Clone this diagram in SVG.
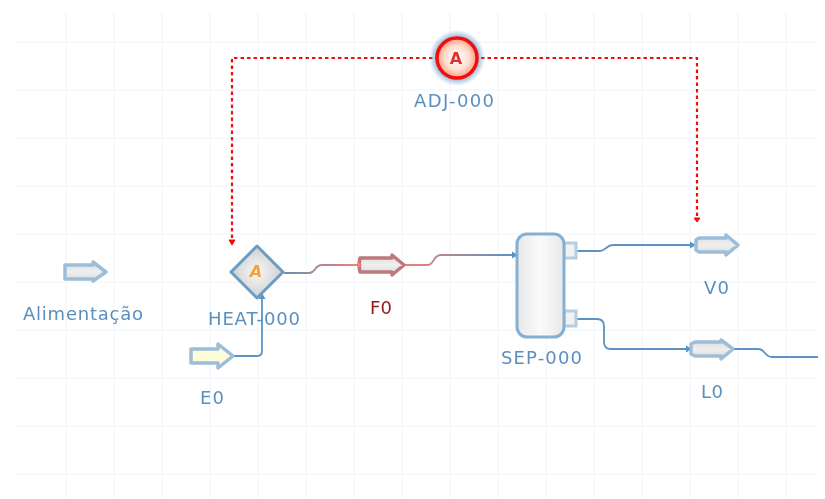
<svg xmlns="http://www.w3.org/2000/svg" width="825" height="499" viewBox="0 0 825 499">
<style>
.lbl{font-family:"DejaVu Sans",Verdana,sans-serif;font-size:18px;fill:#5a8fbe;text-anchor:start}
.st{fill:url(#gs);stroke:#9dbdd8;stroke-width:3.500;stroke-linejoin:round}
.c{fill:none;stroke:#5b93c2;stroke-width:1.800}
.g{stroke:#f8f8ff;stroke-width:2;fill:none}
</style>
<defs>
<filter id="soft" x="0" y="0" width="100%" height="100%"><feGaussianBlur stdDeviation="0.4"/></filter>
<linearGradient id="gs" x1="0" y1="0" x2="0" y2="1"><stop offset="0" stop-color="#dcdcdc"/><stop offset="0.5" stop-color="#efefef"/><stop offset="1" stop-color="#dadada"/></linearGradient>
<linearGradient id="gv" x1="0" y1="0" x2="1" y2="0"><stop offset="0" stop-color="#e8e8e8"/><stop offset="0.5" stop-color="#fafafa"/><stop offset="1" stop-color="#e8e8e8"/></linearGradient>
<linearGradient id="gl1" x1="0" y1="0" x2="1" y2="0"><stop offset="0" stop-color="#6b8fb5"/><stop offset="1" stop-color="#f08070"/></linearGradient>
<linearGradient id="gl2" x1="0" y1="0" x2="1" y2="0"><stop offset="0" stop-color="#f08070"/><stop offset="1" stop-color="#5b93c2"/></linearGradient>
<radialGradient id="gd"><stop offset="0" stop-color="#f8f8f8"/><stop offset="1" stop-color="#cfcfcf"/></radialGradient>
<radialGradient id="ga"><stop offset="0" stop-color="#fff"/><stop offset="0.6" stop-color="#ffe0d0"/><stop offset="1" stop-color="#ff9a80"/></radialGradient>
<radialGradient id="gh"><stop offset="0.6" stop-color="#5f93c4"/><stop offset="0.8" stop-color="#5f93c4" stop-opacity="0.5"/><stop offset="1" stop-color="#5f93c4" stop-opacity="0"/></radialGradient>
</defs>
<rect width="825" height="499" fill="#fff"/>
<g filter="url(#soft)">
<path class="g" d="M66 12V499M114 12V499M162 12V499M210 12V499M258 12V499M306 12V499M354 12V499M402 12V499M450 12V499M498 12V499M546 12V499M594 12V499M642 12V499M690 12V499M738 12V499M786 12V499M18 42H818M18 90H818M18 138H818M18 186H818M18 234H818M18 282H818M18 330H818M18 378H818M18 426H818M18 474H818"/>
<g id="connectors">
<path d="M232 238V58H697V216" fill="none" stroke="#f01010" stroke-width="2.200" stroke-dasharray="3.500 3"/>
<path d="M229 240h6l-3 5z" fill="#f01010" stroke="#f01010"/>
<path d="M694 218h6l-3 4z" fill="#f01010" stroke="#f01010"/>
<path class="c" d="M232 356H257Q262 356 262 351V298"/>
<path d="M258.500 299L262 293L265.500 299z" fill="#5b93c2"/>
<path d="M284 273H309C316 273 314 265 322 265H358" fill="none" stroke="url(#gl1)" stroke-width="1.800"/>
<path d="M404 265H428C434 265 433 255 441 255H512" fill="none" stroke="url(#gl2)" stroke-width="1.800"/>
<path d="M512 251.500L518 255L512 258.500z" fill="#5b93c2"/>
<path class="c" d="M576 251H600C606 251 606 245 613 245H692"/>
<path d="M690 241.500L696 245L690 248.500z" fill="#5b93c2"/>
<path class="c" d="M576 319H597Q604 319 604 326V342Q604 349 611 349H688"/>
<path d="M686 345.500L692 349L686 352.500z" fill="#5b93c2"/>
<path class="c" d="M733 349H758C766 349 764 357 772 357H818"/>
</g>
<g id="ADJ-000">
<circle cx="457" cy="58" r="28" fill="url(#gh)"/>
<circle cx="457" cy="58" r="20" fill="url(#ga)" stroke="#f41010" stroke-width="3.500"/>
<text x="456" y="64" font-family="'DejaVu Sans',sans-serif" font-size="16" font-weight="700" fill="#e03030" text-anchor="middle">A</text>
<text class="lbl" x="414" y="107" textLength="80" lengthAdjust="spacing">ADJ-000</text>
</g>
<g id="Alimentacao">
<path class="st" d="M65 265H93V262L106 272L93 281V279H65Q65 272 65 265Z"/>
<text class="lbl" x="23" y="320" textLength="120" lengthAdjust="spacing">Alimentação</text>
</g>
<g id="HEAT-000">
<path d="M257 246L283 272L257 298L231 272Z" fill="url(#gd)" stroke="#6c9cc4" stroke-width="3" stroke-linejoin="round"/>
<text x="256" y="277" font-family="'DejaVu Sans',sans-serif" font-size="16" font-weight="700" font-style="italic" fill="#f5a030" text-anchor="middle">A</text>
<text class="lbl" x="208" y="325" textLength="92" lengthAdjust="spacing">HEAT-000</text>
</g>
<g id="E0">
<path d="M191 349H218V344L233 356L218 368V363H191Z" fill="#fdfddc" stroke="#9dbdd8" stroke-width="3.500" stroke-linejoin="round"/>
<text class="lbl" x="200" y="404" textLength="24" lengthAdjust="spacing">E0</text>
</g>
<g id="F0">
<path d="M360 258H392V255L404 265L392 275V272H360Q358 265 360 258Z" fill="url(#gs)" stroke="#bd7a7a" stroke-width="3.500" stroke-linejoin="round"/>
<path d="M358 262L362 265L358 268z" fill="#f08070"/>
<text x="370" y="314" textLength="22" lengthAdjust="spacing" font-family="'DejaVu Sans',sans-serif" font-size="18" fill="#8e1a1a">F0</text>
</g>
<g id="SEP-000">
<rect x="564" y="243" width="12" height="15" fill="#f2f2f2" stroke="#b5cee2" stroke-width="3"/>
<rect x="564" y="311" width="12" height="15" fill="#f2f2f2" stroke="#b5cee2" stroke-width="3"/>
<rect x="517" y="234" width="47" height="103" rx="10" fill="url(#gv)" stroke="#86b0d2" stroke-width="3"/>
<text class="lbl" x="501" y="364" textLength="81" lengthAdjust="spacing">SEP-000</text>
</g>
<g id="V0">
<path class="st" d="M696 240L699 238H726V235L738 245L726 255V252H699L696 250Z"/>
<text class="lbl" x="704" y="294" textLength="25" lengthAdjust="spacing">V0</text>
</g>
<g id="L0">
<path class="st" d="M691 344L695 342H721V340L733 349L721 359V356H695L691 354Z"/>
<text class="lbl" x="701" y="398" textLength="22" lengthAdjust="spacing">L0</text>
</g>
</g>
</svg>
